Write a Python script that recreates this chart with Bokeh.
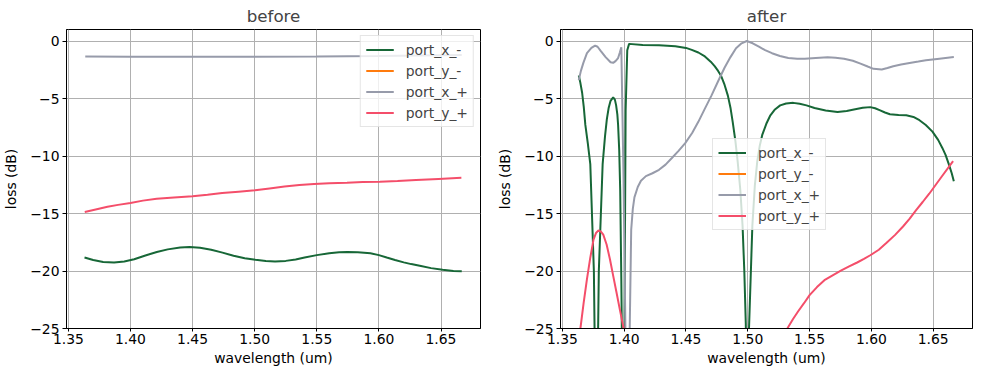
from bokeh.plotting import figure
from bokeh.layouts import row
from bokeh.models import Range1d, FixedTicker
from bokeh.embed import file_html
from bokeh.resources import INLINE

# ---------------- data ----------------
series_names = ["port_x_-", "port_y_-", "port_x_+", "port_y_+"]
series_colors = ["#176737", "#FF7B0D", "#979BAA", "#F44E6A"]

x_ticks = [1.35, 1.40, 1.45, 1.50, 1.55, 1.60, 1.65]
x_tick_labels = ["1.35", "1.40", "1.45", "1.50", "1.55", "1.60", "1.65"]
y_ticks = [-25, -20, -15, -10, -5, 0]
y_tick_labels = ["\u221225", "\u221220", "\u221215", "\u221210", "\u22125", "0"]

# "before" panel
before_xm_wl = [1.3630, 1.3700, 1.3780, 1.3868, 1.3950, 1.4030, 1.4120, 1.4212,
                1.4300, 1.4400, 1.4476, 1.4560, 1.4650, 1.4741, 1.4830, 1.4920,
                1.5006, 1.5090, 1.5164, 1.5250, 1.5330, 1.5402, 1.5500, 1.5600,
                1.5680, 1.5746, 1.5830, 1.5932, 1.6000, 1.6063, 1.6130, 1.6200,
                1.6260, 1.6329, 1.6420, 1.6513, 1.6600, 1.6667]
before_xm_db = [-18.83, -19.05, -19.22, -19.26, -19.17, -18.98, -18.65, -18.35,
                -18.12, -17.96, -17.92, -17.98, -18.15, -18.40, -18.68, -18.90,
                -19.03, -19.13, -19.17, -19.12, -19.00, -18.83, -18.62, -18.45,
                -18.37, -18.35, -18.37, -18.46, -18.62, -18.83, -19.05, -19.25,
                -19.40, -19.54, -19.75, -19.90, -20.00, -20.03]

before_ym_wl = [1.3636, 1.4400, 1.5200, 1.6000, 1.6667]
before_ym_db = [-45.0, -44.0, -42.0, -43.0, -46.0]

before_xp_wl = [1.3636, 1.4000, 1.4500, 1.5000, 1.5500, 1.6000, 1.6667]
before_xp_db = [-1.34, -1.36, -1.37, -1.36, -1.34, -1.30, -1.22]

before_yp_wl = [1.3632, 1.3720, 1.3815, 1.3900, 1.4000, 1.4100, 1.4211, 1.4350,
                1.4500, 1.4620, 1.4738, 1.4870, 1.5003, 1.5120, 1.5240, 1.5360,
                1.5478, 1.5600, 1.5743, 1.5870, 1.6008, 1.6150, 1.6299, 1.6480,
                1.6664]
before_yp_db = [-14.87, -14.65, -14.42, -14.25, -14.08, -13.88, -13.72, -13.60,
                -13.50, -13.37, -13.22, -13.10, -12.98, -12.82, -12.66, -12.53,
                -12.44, -12.37, -12.32, -12.27, -12.23, -12.17, -12.09, -11.99,
                -11.89]

# "after" panel
after_xm_wl = [1.3633, 1.3645, 1.3660, 1.3673, 1.3686, 1.3706, 1.3726, 1.3755,
               1.3775, 1.3795, 1.3826, 1.3845, 1.3860, 1.3875, 1.3890, 1.3911,
               1.3925, 1.3935, 1.3945, 1.3951, 1.3960, 1.3968, 1.3977, 1.3995,
               1.4012, 1.4025, 1.4040, 1.4150, 1.4282, 1.4414, 1.4500, 1.4547,
               1.4600, 1.4653, 1.4700, 1.4732, 1.4760, 1.4785, 1.4812, 1.4839,
               1.4860, 1.4878, 1.4900, 1.4918, 1.4940, 1.4958, 1.4972, 1.4984,
               1.4997, 1.5010, 1.5037, 1.5057, 1.5077, 1.5097, 1.5117, 1.5150,
               1.5183, 1.5220, 1.5262, 1.5310, 1.5368, 1.5420, 1.5475, 1.5540,
               1.5630, 1.5726, 1.5800, 1.5859, 1.5930, 1.5991, 1.6030, 1.6071,
               1.6110, 1.6150, 1.6220, 1.6282, 1.6340, 1.6389, 1.6440, 1.6494,
               1.6540, 1.6574, 1.6600, 1.6627, 1.6650, 1.6667]
after_xm_db = [-3.0, -3.6, -4.5, -5.7, -7.3, -8.9, -10.7, -20.0,
               -38.0, -20.0, -10.7, -8.3, -6.8, -5.8, -5.2, -4.9,
               -5.1, -5.6, -6.4, -7.3, -9.5, -13.0, -20.7, -40.0,
               -6.0, -0.8, -0.25, -0.34, -0.37, -0.45, -0.60, -0.77,
               -1.0, -1.34, -1.8, -2.19, -2.6, -3.05, -3.8, -4.75,
               -5.8, -7.03, -8.7, -10.44, -13.0, -16.1, -20.0, -24.6,
               -35.0, -25.0, -16.1, -12.6, -10.44, -9.1, -8.17, -7.2,
               -6.46, -5.95, -5.6, -5.43, -5.38, -5.45, -5.6, -5.83,
               -6.05, -6.17, -6.08, -5.95, -5.8, -5.75, -5.85, -6.03,
               -6.22, -6.37, -6.44, -6.46, -6.6, -6.89, -7.3, -7.88,
               -8.6, -9.3, -9.9, -10.73, -11.5, -12.2]

after_ym_wl = [1.3636, 1.4200, 1.4800, 1.5500, 1.6200, 1.6667]
after_ym_db = [-48.0, -45.0, -50.0, -46.0, -44.0, -47.0]

after_xp_wl = [1.3633, 1.3650, 1.3670, 1.3699, 1.3735, 1.3765, 1.3785, 1.3810,
               1.3850, 1.3890, 1.3911, 1.3930, 1.3951, 1.3965, 1.3977, 1.3995,
               1.4010, 1.4028, 1.4045, 1.4057, 1.4070, 1.4083, 1.4110, 1.4136,
               1.4176, 1.4229, 1.4282, 1.4335, 1.4388, 1.4440, 1.4494, 1.4550,
               1.4600, 1.4650, 1.4706, 1.4760, 1.4812, 1.4860, 1.4905, 1.4950,
               1.4992, 1.5040, 1.5090, 1.5140, 1.5196, 1.5260, 1.5328, 1.5400,
               1.5461, 1.5550, 1.5646, 1.5710, 1.5779, 1.5850, 1.5912, 1.5970,
               1.6017, 1.6084, 1.6130, 1.6177, 1.6240, 1.6309, 1.6380, 1.6441,
               1.6550, 1.6667]
after_xp_db = [-3.4, -2.6, -1.9, -1.06, -0.6, -0.4, -0.5, -0.85,
               -1.4, -1.85, -1.9, -1.75, -1.48, -1.0, -0.55, -12.0,
               -25.0, -40.0, -25.0, -16.4, -14.6, -13.6, -12.7, -12.15,
               -11.75, -11.5, -11.2, -10.75, -10.15, -9.55, -8.88, -8.0,
               -7.03, -5.95, -4.75, -3.5, -2.33, -1.4, -0.63, -0.2,
               0.0, -0.2, -0.49, -0.8, -1.06, -1.3, -1.48, -1.54,
               -1.54, -1.48, -1.42, -1.46, -1.54, -1.72, -1.97, -2.22,
               -2.42, -2.48, -2.35, -2.19, -2.05, -1.91, -1.79, -1.68,
               -1.54, -1.40]

after_yp_wl = [1.3636, 1.3646, 1.3672, 1.3699, 1.3725, 1.3752, 1.3772, 1.3792,
               1.3810, 1.3831, 1.3858, 1.3885, 1.3911, 1.3937, 1.3966, 1.3996,
               1.4050, 1.4500, 1.5000, 1.5200, 1.5320, 1.5365, 1.5408, 1.5455,
               1.5500, 1.5560, 1.5620, 1.5690, 1.5753, 1.5820, 1.5885, 1.5940,
               1.5991, 1.6060, 1.6123, 1.6190, 1.6256, 1.6310, 1.6362, 1.6415,
               1.6468, 1.6565, 1.6661]
after_yp_db = [-27.0, -25.0, -22.8, -20.7, -18.9, -17.27, -16.7, -16.47,
               -16.55, -16.84, -17.7, -18.98, -20.4, -21.8, -23.4, -25.0,
               -28.0, -40.0, -35.0, -28.0, -25.0, -24.2, -23.5, -22.8,
               -22.1, -21.4, -20.8, -20.35, -19.97, -19.6, -19.26, -18.95,
               -18.63, -18.15, -17.55, -16.88, -16.13, -15.45, -14.7, -14.0,
               -13.28, -11.85, -10.44]

panels = [
    ("before", [(before_xm_wl, before_xm_db), (before_ym_wl, before_ym_db),
                (before_xp_wl, before_xp_db), (before_yp_wl, before_yp_db)]),
    ("after", [(after_xm_wl, after_xm_db), (after_ym_wl, after_ym_db),
               (after_xp_wl, after_xp_db), (after_yp_wl, after_yp_db)]),
]

FONT = "DejaVu Sans"
FS = "13.9px"
H = 368


def make_fig(title, data, width, left, right):
    p = figure(width=width, height=H, output_backend="svg", toolbar_location=None,
               x_range=Range1d(1.3485, 1.6818), y_range=Range1d(-25, 1),
               min_border_left=left, min_border_right=right,
               min_border_top=29, min_border_bottom=38,
               background_fill_color="white", border_fill_color="white")
    p.title.text = title
    p.title.align = "center"
    p.title.text_font = FONT
    p.title.text_font_size = "16.7px"
    p.title.text_font_style = "normal"
    p.title.standoff = 7
    p.outline_line_color = "black"
    p.outline_line_width = 1

    for (wl, db), name, col in zip(data, series_names, series_colors):
        p.line(wl, db, line_color=col, line_width=2, legend_label=name)

    p.xaxis.ticker = FixedTicker(ticks=x_ticks)
    p.xaxis.major_label_overrides = dict(zip(x_ticks, x_tick_labels))
    p.yaxis.ticker = FixedTicker(ticks=y_ticks)
    p.yaxis.major_label_overrides = dict(zip(y_ticks, y_tick_labels))
    p.xaxis.axis_label = "wavelength (um)"
    p.yaxis.axis_label = "loss (dB)"
    for ax in (p.xaxis, p.yaxis):
        ax.axis_label_text_font = FONT
        ax.axis_label_text_font_size = FS
        ax.axis_label_text_font_style = "normal"
        ax.major_label_text_font = FONT
        ax.major_label_text_font_size = FS
        ax.major_label_text_color = "black"
        ax.axis_label_text_color = "black"
        ax.axis_line_color = "black"
        ax.major_tick_line_color = "black"
        ax.major_tick_in = 0
        ax.major_tick_out = 4
        ax.minor_tick_line_color = None
    p.xaxis.major_tick_out = 3
    p.xaxis.major_label_standoff = 2
    p.xaxis.axis_label_standoff = 3
    p.yaxis.major_label_standoff = 3
    p.yaxis.axis_label_standoff = 8

    p.grid.grid_line_color = "#b0b0b0"
    p.grid.grid_line_width = 1

    lg = p.legend[0]
    lg.label_text_font = FONT
    lg.label_text_font_size = FS
    lg.glyph_width = 28
    lg.glyph_height = 17
    lg.label_height = 17
    lg.label_standoff = 12
    lg.padding = 5
    lg.spacing = 4
    lg.margin = 6
    lg.border_line_color = "#cccccc"
    lg.border_line_width = 1
    lg.background_fill_alpha = 0.8
    return p


p1 = make_fig(panels[0][0], panels[0][1], 494, 62, 14)
p1.legend[0].location = "top_right"
p2 = make_fig(panels[1][0], panels[1][1], 480, 60, 2)
p2.legend[0].margin = 0
p2.legend[0].location = (152, 98)

layout = row(p1, p2)
open("out.html", "w").write(file_html(layout, INLINE))
